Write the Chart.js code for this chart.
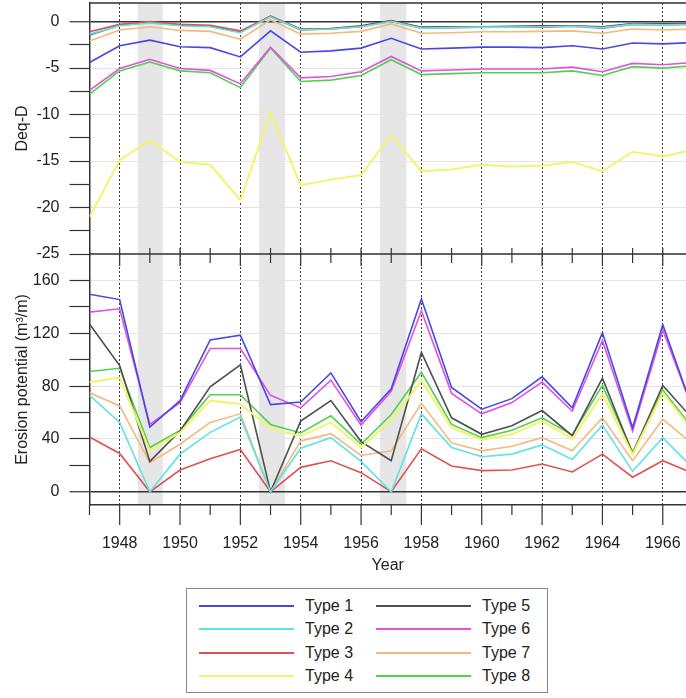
<!DOCTYPE html>
<html><head><meta charset="utf-8">
<script src="https://cdn.jsdelivr.net/npm/chart.js@4"></script>
<style>
html,body{margin:0;padding:0;background:#fff;overflow:hidden;}
#wrap{position:absolute;left:0;top:0;width:686px;height:585px;}
#legend{position:absolute;left:186px;top:588px;width:362px;height:105px;border:1.5px solid #8a8a8a;box-sizing:border-box;font-family:"Liberation Sans",Arial,sans-serif;font-size:16px;color:#222;}
.item{position:absolute;height:20px;}
.item .ln{position:absolute;top:9px;height:2px;width:95px;}
.item .tx{position:absolute;top:0;line-height:20px;white-space:nowrap;}
</style></head>
<body>
<div id="wrap"><canvas id="c" width="686" height="585"></canvas></div>
<div id="legend"></div>
<script>
// ---------- DATA ----------
const years = [1947,1948,1949,1950,1951,1952,1953,1954,1955,1956,1957,1958,1959,1960,1961,1962,1963,1964,1965,1966,1967];
const typeNames = ['Type 1','Type 2','Type 3','Type 4','Type 5','Type 6','Type 7','Type 8'];

// Deq-D (top panel)
const deqType1 = [-4.4,-2.6,-2.0,-2.7,-2.8,-3.8,-1.0,-3.3,-3.15,-2.85,-1.8,-2.95,-2.85,-2.75,-2.75,-2.8,-2.6,-2.95,-2.3,-2.4,-2.25];
const deqType2 = [-1.35,-0.45,-0.15,-0.45,-0.55,-1.2,0.5,-0.85,-0.8,-0.55,0.0,-0.7,-0.65,-0.6,-0.6,-0.55,-0.5,-0.65,-0.3,-0.35,-0.3];
const deqType3 = [-1.1,-0.3,0.0,-0.3,-0.4,-1.0,0.55,-0.9,-0.8,-0.55,0.05,-0.7,-0.65,-0.6,-0.6,-0.6,-0.5,-0.7,-0.3,-0.35,-0.3];
const deqType4 = [-21,-14.9,-12.75,-15.1,-15.4,-19.2,-9.8,-17.6,-17.0,-16.5,-12.2,-16.1,-15.9,-15.4,-15.6,-15.5,-15.1,-16.1,-14.0,-14.5,-13.8];
const deqType5 = [-1.45,-0.4,-0.1,-0.4,-0.5,-1.15,0.6,-0.8,-0.75,-0.45,0.1,-0.6,-0.55,-0.55,-0.5,-0.45,-0.45,-0.55,-0.2,-0.25,-0.2];
const deqType6 = [-7.4,-5.05,-4.05,-5.05,-5.25,-6.7,-2.75,-6.05,-5.9,-5.4,-3.75,-5.3,-5.2,-5.1,-5.1,-5.1,-4.9,-5.4,-4.5,-4.65,-4.4];
const deqType7 = [-2.1,-0.9,-0.55,-0.95,-1.05,-1.9,0.2,-1.35,-1.25,-1.05,-0.25,-1.25,-1.2,-1.1,-1.1,-1.05,-1.0,-1.25,-0.8,-0.9,-0.8];
const deqType8 = [-7.8,-5.3,-4.35,-5.3,-5.5,-7.1,-2.85,-6.45,-6.3,-5.8,-4.1,-5.7,-5.6,-5.5,-5.5,-5.5,-5.3,-5.8,-4.85,-5.0,-4.75];

// Erosion potential (bottom panel), m3/m
const eroType1 = [149.5,145.5,49,69,115,118.5,66,68,90,53,78,146,79,62.5,70.5,87,63.5,120.5,48.5,126.5,62];
const eroType2 = [73,52.5,0,28.5,45,56.5,0,33,41,23,0,59,33.5,26.5,28.5,35.5,24.5,50.5,15.5,41,18];
const eroType3 = [41.5,29,0,16.5,25,32,0,18.5,23.5,14.5,0,32.5,19.5,16,16.5,21,15,28.5,11,23.5,14];
const eroType4 = [83,86.5,31,45,69,66.5,48,42,52.5,33.5,54,84,48.5,39.5,43.5,53.5,40,74,28.5,75,46];
const eroType5 = [127,95.5,23,46,79.5,96,0,53.5,69,38,23.5,105.5,56,43.5,50,61.5,42.5,86,29,80.5,55];
const eroType6 = [136,138.5,51,67.5,108.5,108.5,73,63.5,84.5,50.5,76,137,74.5,59,67.5,83,61,114.5,46,122.5,62];
const eroType7 = [75,65,22,36,52.5,59,0,38.5,44,27.5,31,67,37,31,34.5,41,31,56,23.5,55,36];
const eroType8 = [91,93.5,33.5,46.5,73.5,73.5,51,44.5,57.5,36,58.5,90.5,51,41,46.5,56,43,80.5,30,77,48];

// shaded periods (years)
const bandStart = [1948.6, 1952.62, 1956.63];
const bandEnd   = [1949.43, 1953.48, 1957.5];

// ---------- STYLE ----------
const deqSeries = [deqType1,deqType2,deqType3,deqType4,deqType5,deqType6,deqType7,deqType8];
const eroSeries = [eroType1,eroType2,eroType3,eroType4,eroType5,eroType6,eroType7,eroType8];
const colors = ['#4848e4','#5fe3e3','#e05252','#f4f46c','#505050','#e052e0','#f6b77e','#52d052'];
const widths = [1.6,1.6,1.6,2,1.6,1.6,1.6,1.6];
const FONT = '"Liberation Sans", Arial, sans-serif';
const TXT = '#222';

const datasets = [];
typeNames.forEach((n,i)=>{
  datasets.push({label:n, yAxisID:'yTop', data: years.map((yr,j)=>({x:yr,y:deqSeries[i][j]})),
    borderColor:colors[i], borderWidth:widths[i], pointRadius:0, fill:false, tension:0});
});
typeNames.forEach((n,i)=>{
  datasets.push({label:n, yAxisID:'yBot', data: years.map((yr,j)=>({x:yr,y:eroSeries[i][j]})),
    borderColor:colors[i], borderWidth:widths[i], pointRadius:0, fill:false, tension:0});
});

const bandsPlugin = {
  id:'bands',
  beforeDraw(chart){
    const {ctx, chartArea:a, scales:{x}} = chart;
    ctx.save();
    ctx.fillStyle = '#e6e6e6';
    bandStart.forEach((s,i)=>{
      const x1 = x.getPixelForValue(s), x2 = x.getPixelForValue(bandEnd[i]);
      ctx.fillRect(x1, a.top, x2-x1, a.bottom-a.top);
    });
    ctx.restore();
  }
};

const framePlugin = {
  id:'frame',
  afterDraw(chart){
    const {ctx, chartArea:a, scales:{x, yTop}} = chart;
    ctx.save();
    ctx.strokeStyle = '#333';
    ctx.lineWidth = 1.5;
    ctx.beginPath();
    ctx.moveTo(a.left, a.top); ctx.lineTo(a.right, a.top);
    ctx.moveTo(a.left, yTop.bottom); ctx.lineTo(a.right, yTop.bottom);
    ctx.stroke();
    ctx.lineWidth = 1.2;
    ctx.beginPath();
    x.ticks.forEach(t=>{
      const v = t.value;
      const px = x.getPixelForValue(v);
      const major = (v % 2 === 0);
      ctx.moveTo(px, a.bottom); ctx.lineTo(px, a.bottom + (major ? 20 : 10));
      if (v > years[0]) {
        ctx.moveTo(px, yTop.bottom); ctx.lineTo(px, yTop.bottom - 6);
        ctx.moveTo(px, yTop.bottom); ctx.lineTo(px, yTop.bottom + (major ? 12 : 9));
      }
    });
    ctx.stroke();
    ctx.restore();
  }
};

const tickFont = {family:FONT, size:16};
const noPad = s => { s.paddingTop = 0; s.paddingBottom = 0; s.paddingLeft = 0; s.paddingRight = 0; };

new Chart(document.getElementById('c'), {
  type:'line',
  data:{datasets},
  plugins:[bandsPlugin, framePlugin],
  options:{
    responsive:false, animation:false, devicePixelRatio:1,
    layout:{padding:{top:3,left:0,right:0,bottom:0}},
    plugins:{legend:{display:false}, tooltip:{enabled:false}},
    scales:{
      x:{type:'linear', position:'bottom', min:1947, max:1966.77,
        ticks:{stepSize:1, autoSkip:false, includeBounds:false, maxRotation:0, minRotation:0, padding:29,
          font:tickFont, color:TXT, callback:v=> (v%2===0 ? String(v) : '')},
        grid:{drawTicks:false, lineWidth:1,
          color: c => (c.tick && c.tick.value%2===0) ? '#3a3a3a' : 'rgba(0,0,0,0)'},
        border:{display:true, color:'#333', width:1.5, dash:[2,2]},
        title:{display:true, text:'Year', font:{family:FONT,size:16}, color:TXT, padding:{top:0,bottom:10}},
        afterFit: s => { s.height = 80; noPad(s); }
      },
      yTop:{type:'linear', position:'left', stack:'v', stackWeight:1, weight:2, min:-25, max:2,
        ticks:{stepSize:2.5, autoSkip:false, includeBounds:false, padding:10, font:tickFont, color:TXT,
          callback:v=> (v%5===0 ? String(v) : '')},
        grid:{tickLength:20, tickColor:'#333', tickWidth:1.2,
          color: c => !c.tick ? 'rgba(0,0,0,0)' : (c.tick.value===0 ? '#333' : (c.tick.value%5===0 ? '#e4e4e4' : 'rgba(0,0,0,0)')),
          lineWidth: c => (c.tick && c.tick.value===0) ? 1.5 : 1},
        border:{display:true, color:'#333', width:1.5},
        title:{display:true, text:'Deq-D', font:{family:FONT,size:16}, color:TXT, padding:{top:13,bottom:0}},
        afterFit: s => { s.width = 89.5; noPad(s); }
      },
      yBot:{type:'linear', position:'left', stack:'v', stackWeight:1, weight:1, min:-10, max:180,
        ticks:{stepSize:20, autoSkip:false, includeBounds:false, padding:10, font:tickFont, color:TXT,
          callback:v=> (v%40===0 && v<=160 ? String(v) : '')},
        grid:{tickLength:20, tickColor: c => (c.tick && c.tick.value>160) ? 'rgba(0,0,0,0)' : '#333', tickWidth:1.2,
          color: c => !c.tick ? 'rgba(0,0,0,0)' : (c.tick.value===0 ? '#333' : (c.tick.value%40===0 && c.tick.value<=160 ? '#e4e4e4' : 'rgba(0,0,0,0)')),
          lineWidth: c => (c.tick && c.tick.value===0) ? 1.5 : 1},
        border:{display:true, color:'#333', width:1.5},
        title:{display:true, text:'Erosion potential (m³/m)', font:{family:FONT,size:16}, color:TXT, padding:{top:13,bottom:0}},
        afterFit: s => { s.width = 89.5; noPad(s); }
      }
    }
  }
});

// ---------- HTML legend (two columns) ----------
const leg = document.getElementById('legend');
const rowTop = [7, 30, 54, 77];
const colLine = [12, 189];
const colText = [118, 295];
typeNames.forEach((n,i)=>{
  const col = Math.floor(i/4), row = i%4;
  const it = document.createElement('div');
  it.className = 'item';
  it.style.left = '0px'; it.style.top = rowTop[row] + 'px';
  const ln = document.createElement('div');
  ln.className = 'ln'; ln.style.left = colLine[col] + 'px'; ln.style.background = colors[i];
  const tx = document.createElement('div');
  tx.className = 'tx'; tx.style.left = colText[col] + 'px'; tx.textContent = n;
  it.appendChild(ln); it.appendChild(tx); leg.appendChild(it);
});
</script>
</body></html>
